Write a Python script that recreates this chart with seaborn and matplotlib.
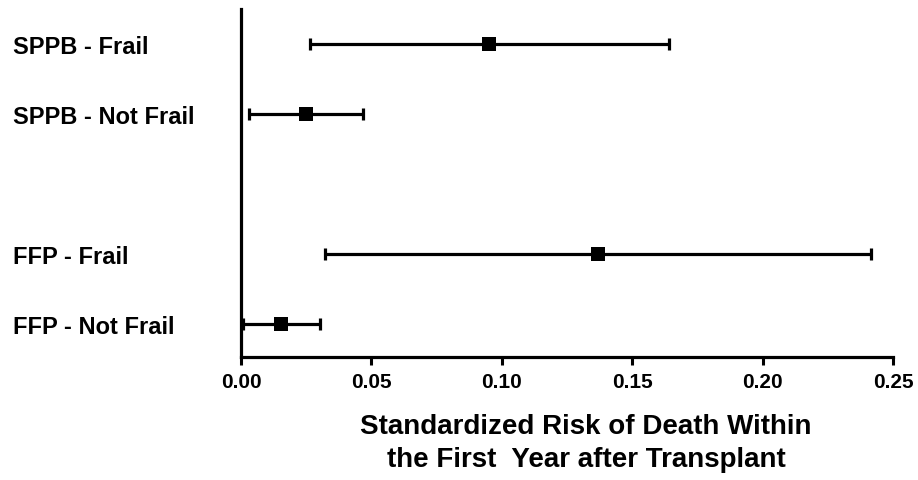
import matplotlib
matplotlib.use("Agg")
import matplotlib.pyplot as plt
import seaborn as sns
import pandas as pd

# ---------------------
# Data
# ---------------------
groups = ['SPPB - Frail', 'SPPB - Not Frail', 'FFP - Frail', 'FFP - Not Frail']
row_pos = [0, 1, 3, 4]
risk = [0.0952, 0.0248, 0.1369, 0.0152]
ci_low = [0.0263, 0.0031, 0.0321, 0.0006]
ci_high = [0.1642, 0.0467, 0.2416, 0.0303]

df = pd.DataFrame({'group': groups, 'pos': row_pos, 'risk': risk,
                   'low': ci_low, 'high': ci_high})

sns.set_style('ticks')
plt.rcParams['font.family'] = ['Liberation Sans', 'DejaVu Sans']
plt.rcParams['text.color'] = 'black'
plt.rcParams['xtick.color'] = 'black'
plt.rcParams['ytick.color'] = 'black'
plt.rcParams['axes.edgecolor'] = 'black'
plt.rcParams['axes.labelcolor'] = 'black'

fig = plt.figure(figsize=(9.18, 4.81), dpi=100)
ax = fig.add_axes([241 / 918, 1 - 358 / 481, 652 / 918, 348 / 481])

# confidence intervals
ax.errorbar(df['risk'], df['pos'],
            xerr=[df['risk'] - df['low'], df['high'] - df['risk']],
            fmt='none', ecolor='black', elinewidth=2.3, capsize=4, capthick=2.3)

# point estimates
sns.scatterplot(data=df, x='risk', y='pos', marker='s', s=90, color='black',
                edgecolor='black', linewidth=0, ax=ax, zorder=3)

ax.set_xlim(0, 0.25)
ax.set_ylim(4.47, -0.5)
ax.set_xticks([0.0, 0.05, 0.10, 0.15, 0.20, 0.25])
ax.set_xticklabels(['0.00', '0.05', '0.10', '0.15', '0.20', '0.25'],
                   fontsize=15, fontweight='bold')
ax.set_yticks(row_pos)
ax.set_yticklabels(groups, fontsize=17, fontweight='bold', ha='left')
ax.tick_params(axis='y', length=0, pad=228 * 0.72)
ax.tick_params(axis='x', length=6, width=2.2, pad=5)

for side in ['top', 'right']:
    ax.spines[side].set_visible(False)
for side in ['left', 'bottom']:
    ax.spines[side].set_linewidth(2.3)

ax.set_ylabel('')
ax.set_xlabel('Standardized Risk of Death Within\nthe First  Year after Transplant',
              fontsize=20, fontweight='bold', linespacing=1.35)
ax.xaxis.set_label_coords(345 / 652, -0.16)
ax.xaxis.label.set_va('top')

fig.savefig('out.png', dpi=100)
